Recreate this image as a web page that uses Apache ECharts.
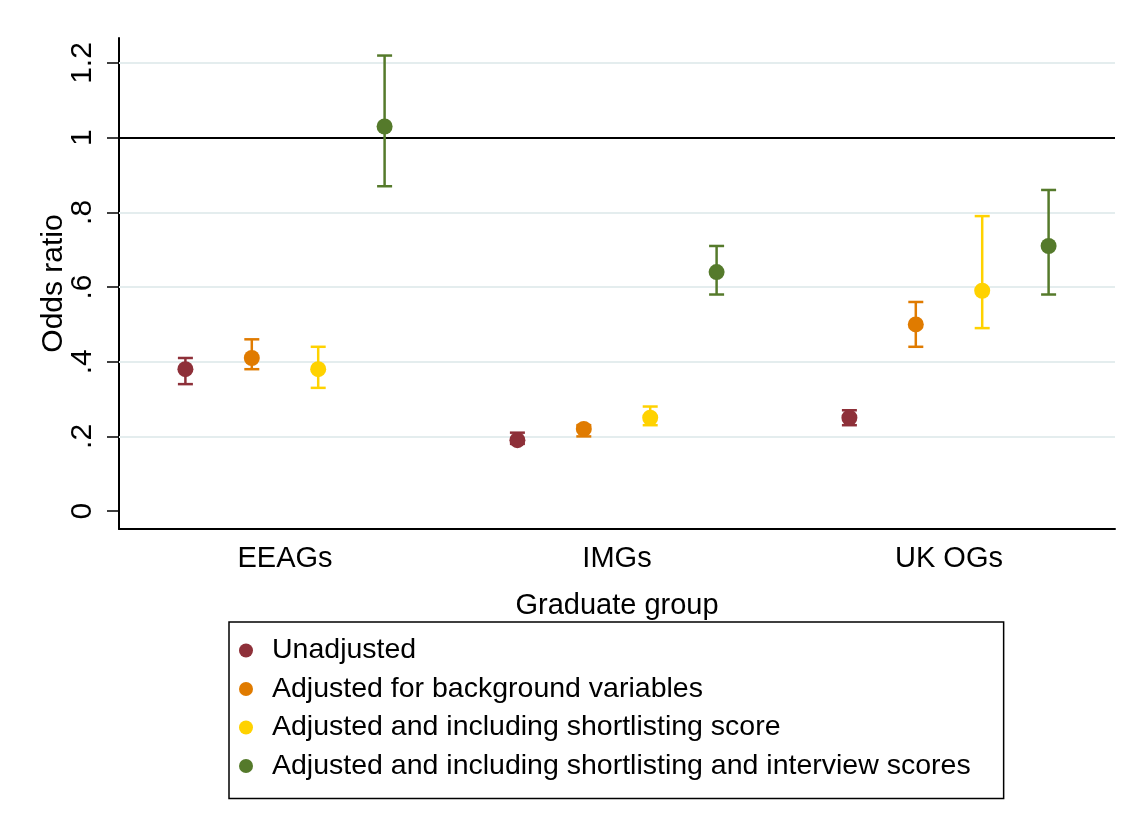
<!DOCTYPE html>
<html><head><meta charset="utf-8">
<script src="https://cdn.jsdelivr.net/npm/echarts@6/dist/echarts.min.js"></script>
<style>html,body{margin:0;padding:0;background:#fff}#c{width:1131px;height:827px}</style>
</head><body><div id="c"></div>
<script>
const categories = ['EEAGs', 'IMGs', 'UK OGs'];
const seriesNames = ['Unadjusted', 'Adjusted for background variables', 'Adjusted and including shortlisting score', 'Adjusted and including shortlisting and interview scores'];
const unadjusted      = [0.38, 0.19, 0.25];
const unadjustedLow   = [0.34, 0.18, 0.23];
const unadjustedHigh  = [0.41, 0.21, 0.27];
const background      = [0.41, 0.22, 0.50];
const backgroundLow   = [0.38, 0.20, 0.44];
const backgroundHigh  = [0.46, 0.23, 0.56];
const shortlist       = [0.38, 0.25, 0.59];
const shortlistLow    = [0.33, 0.23, 0.49];
const shortlistHigh   = [0.44, 0.28, 0.79];
const interview       = [1.03, 0.64, 0.71];
const interviewLow    = [0.87, 0.58, 0.58];
const interviewHigh   = [1.22, 0.71, 0.86];
const yTicks = [0, 0.2, 0.4, 0.6, 0.8, 1, 1.2];
const gridValues = [0.2, 0.4, 0.6, 0.8, 1.2];
const refValue = 1;

const colors = ['#8e3039', '#e07b00', '#ffd200', '#557a2b'];
const offsets = [-0.3, -0.1, 0.1, 0.3];
const est = [unadjusted, background, shortlist, interview];
const lows = [unadjustedLow, backgroundLow, shortlistLow, interviewLow];
const highs = [unadjustedHigh, backgroundHigh, shortlistHigh, interviewHigh];
const FONT = '"Liberation Sans", Arial, sans-serif';

function makeSeries(k) {
  const data = categories.map((c, i) => [i, est[k][i], lows[k][i], highs[k][i]]);
  return {
    type: 'custom',
    name: seriesNames[k],
    itemStyle: { color: colors[k] },
    encode: { x: 0, y: [1, 2, 3] },
    z: 5,
    data: data,
    renderItem: function (params, api) {
      const ci = api.value(0);
      const bw = api.size([1, 0])[0];
      const c = api.coord([ci, api.value(1)]);
      const x = c[0] + offsets[k] * bw;
      const yl = api.coord([ci, api.value(2)])[1];
      const yh = api.coord([ci, api.value(3)])[1];
      const cw = 7.5;
      const st = { stroke: colors[k], lineWidth: 2.5 };
      return {
        type: 'group',
        children: [
          { type: 'line', shape: { x1: x, y1: yl, x2: x, y2: yh }, style: st },
          { type: 'line', shape: { x1: x - cw, y1: yl, x2: x + cw, y2: yl }, style: st },
          { type: 'line', shape: { x1: x - cw, y1: yh, x2: x + cw, y2: yh }, style: st },
          { type: 'circle', shape: { cx: x, cy: c[1], r: 8 }, style: { fill: colors[k] } }
        ]
      };
    }
  };
}

const chart = echarts.init(document.getElementById('c'));
const series = [
  {
    type: 'line', name: '_grid', data: [], silent: true, z: 1,
    markLine: {
      silent: true, symbol: 'none', label: { show: false },
      lineStyle: { color: '#e4edee', width: 2, type: 'solid' },
      data: gridValues.map(v => ({ yAxis: v }))
    }
  },
  {
    type: 'line', name: '_ref', data: [], silent: true, z: 2,
    markLine: {
      silent: true, symbol: 'none', label: { show: false },
      lineStyle: { color: '#000', width: 2, type: 'solid' },
      data: [{ yAxis: refValue }]
    }
  }
].concat([0, 1, 2, 3].map(makeSeries));

chart.setOption({
  animation: false,
  backgroundColor: '#fff',
  textStyle: { fontFamily: FONT, color: '#000' },
  grid: { left: 119, right: 16, top: 38, bottom: 298, containLabel: false },
  xAxis: {
    type: 'category',
    data: categories,
    boundaryGap: true,
    name: 'Graduate group',
    nameLocation: 'middle',
    nameGap: 62,
    nameMoveOverlap: false,
    nameTextStyle: { fontSize: 29, color: '#000', fontFamily: FONT },
    axisLine: { onZero: false, lineStyle: { color: '#000', width: 2 } },
    axisTick: { alignWithLabel: true, length: 11, lineStyle: { color: '#000', width: 1.5 } },
    axisLabel: { fontSize: 29, color: '#000', margin: 15, fontFamily: FONT },
    splitLine: { show: false }
  },
  yAxis: {
    type: 'value',
    min: -0.048,
    max: 1.267,
    name: 'Odds ratio',
    nameLocation: 'middle',
    nameGap: 50,
    nameMoveOverlap: false,
    nameTextStyle: { fontSize: 30, color: '#000', fontFamily: FONT },
    axisLine: { show: true, lineStyle: { color: '#000', width: 2 } },
    axisTick: { show: true, length: 12, customValues: yTicks, lineStyle: { color: '#000', width: 1.5 } },
    axisLabel: {
      customValues: yTicks,
      rotate: 90,
      fontSize: 30,
      margin: 21,
      color: '#000',
      fontFamily: FONT,
      formatter: function (v) { return v === 0 ? '0' : String(v).replace(/^0\./, '.'); }
    },
    splitLine: { show: false }
  },
  legend: {
    orient: 'vertical',
    left: 229,
    top: 622,
    data: seriesNames.map((n, i) => ({ name: n, icon: 'circle', itemStyle: { color: colors[i] } })),
    itemWidth: 14,
    itemHeight: 14,
    itemGap: 5.5,
    padding: [12, 33, 16, 10],
    borderColor: '#000',
    borderWidth: 1.5,
    textStyle: { fontSize: 28.5, color: '#000', lineHeight: 33, fontFamily: FONT, padding: [0, 0, 0, 14] }
  },
  series: series
});
</script></body></html>
